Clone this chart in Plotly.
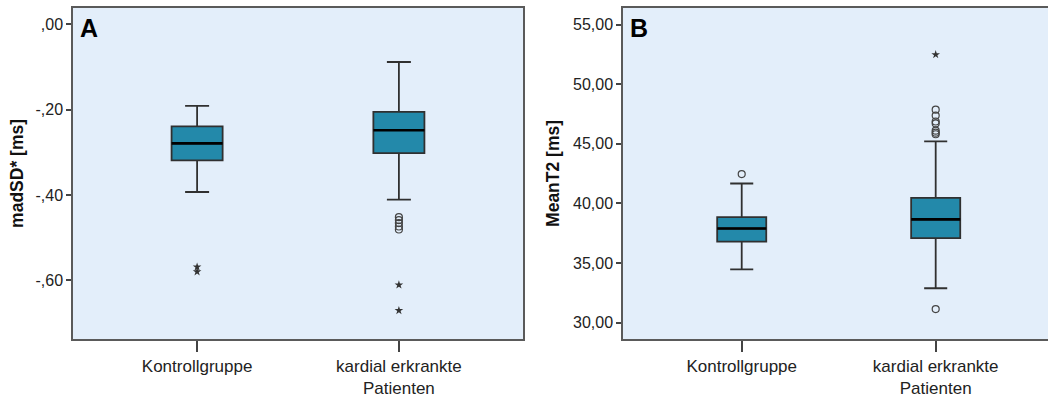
import plotly.graph_objects as go

# ---- data ----
categories = ["Kontrollgruppe", "kardial erkrankte<br>Patienten"]

# Panel A: madSD* [ms]
a_q1 = [-0.319, -0.302]
a_median = [-0.279, -0.248]
a_q3 = [-0.239, -0.205]
a_lower = [-0.393, -0.411]
a_upper = [-0.191, -0.088]
a_out_circles = [[], [-0.452, -0.459, -0.466, -0.474, -0.481]]
a_out_stars = [[-0.569, -0.580], [-0.611, -0.671]]
a_tickvals = [0.0, -0.2, -0.4, -0.6]
a_ticktext = [",00", "-,20", "-,40", "-,60"]

# Panel B: MeanT2 [ms]
b_q1 = [36.80, 37.10]
b_median = [37.90, 38.66]
b_q3 = [38.85, 40.47]
b_lower = [34.47, 32.89]
b_upper = [41.67, 45.20]
b_out_circles = [[42.46], [47.86, 47.37, 46.87, 46.71, 46.10, 45.93, 45.80, 31.14]]
b_out_stars = [[], [52.48]]
b_tickvals = [30, 35, 40, 45, 50, 55]
b_ticktext = ["30,00", "35,00", "40,00", "45,00", "50,00", "55,00"]

# ---- style ----
FONT = "Liberation Sans, Arial, sans-serif"
BOX_FILL = "#2389AA"
LINE = "#303030"
BG = "#E3EEFA"
BOXW = 0.253

fig = go.Figure()
positions = list(range(len(categories)))


def add_panel(xa, ya, q1, med, q3, lo, up, circles, stars):
    fig.add_trace(go.Box(
        x=positions, q1=q1, median=med, q3=q3, lowerfence=lo, upperfence=up,
        width=BOXW, whiskerwidth=0.47, fillcolor=BOX_FILL,
        line=dict(color=LINE, width=1.8), boxpoints=False,
        xaxis=xa, yaxis=ya, showlegend=False, hoverinfo="skip"))
    # thicker black median lines
    mx, my = [], []
    for p, m in zip(positions, med):
        mx += [p - BOXW / 2, p + BOXW / 2, None]
        my += [m, m, None]
    fig.add_trace(go.Scatter(x=mx, y=my, mode="lines",
                             line=dict(color="#000000", width=2.6),
                             xaxis=xa, yaxis=ya, showlegend=False, hoverinfo="skip"))
    cx, cy, sx, sy = [], [], [], []
    for p, c, s in zip(positions, circles, stars):
        cx += [p] * len(c); cy += c
        sx += [p] * len(s); sy += s
    fig.add_trace(go.Scatter(x=cx, y=cy, mode="markers",
                             marker=dict(symbol="circle-open", size=7,
                                         color="#444444", line=dict(width=1.2)),
                             xaxis=xa, yaxis=ya, showlegend=False, hoverinfo="skip"))
    fig.add_trace(go.Scatter(x=sx, y=sy, mode="markers",
                             marker=dict(symbol="star", size=6.5, color="#333333"),
                             xaxis=xa, yaxis=ya, showlegend=False, hoverinfo="skip"))


add_panel("x", "y", a_q1, a_median, a_q3, a_lower, a_upper, a_out_circles, a_out_stars)
add_panel("x2", "y2", b_q1, b_median, b_q3, b_lower, b_upper, b_out_circles, b_out_stars)

ydom = [1 - 346 / 398, 1 - 8 / 398]
axis_line = dict(showline=True, linecolor="#5a5a5a", linewidth=1.5, mirror=True,
                 showgrid=False, zeroline=False)
tickfont = dict(family=FONT, size=16, color="#222222")
xtickfont = dict(family=FONT, size=17, color="#222222")
titlefont = dict(family=FONT, size=17.5, color="#111111")

fig.update_layout(
    width=1048, height=398,
    margin=dict(l=0, r=0, t=0, b=0),
    paper_bgcolor="white", plot_bgcolor=BG,
    xaxis=dict(domain=[73 / 1048, 523 / 1048], range=[-0.615, 1.615],
               tickvals=positions, ticktext=categories, ticks="outside",
               ticklen=11, tickcolor="#444444", tickwidth=1.5,
               tickfont=xtickfont, anchor="y", **axis_line),
    yaxis=dict(domain=ydom, range=[-0.738, 0.039], tickvals=a_tickvals,
               ticktext=a_ticktext, ticks="outside", ticklen=5,
               tickcolor="#444444", tickwidth=1.5, tickfont=tickfont,
               title=dict(text="<b>madSD* [ms]</b>", font=titlefont, standoff=7),
               anchor="x", automargin=False, **axis_line),
    xaxis2=dict(domain=[623 / 1048, 1.0], range=[-0.612, 1.579],
                tickvals=positions, ticktext=categories, ticks="outside",
                ticklen=11, tickcolor="#444444", tickwidth=1.5,
                tickfont=xtickfont, anchor="y2", **axis_line),
    yaxis2=dict(domain=ydom, range=[28.63, 56.40], tickvals=b_tickvals,
                ticktext=b_ticktext, ticks="outside", ticklen=5,
                tickcolor="#444444", tickwidth=1.5, tickfont=tickfont,
                title=dict(text="<b>MeanT2 [ms]</b>", font=titlefont, standoff=9),
                anchor="x2", automargin=False, **axis_line),
)

for xr, yr, letter in [("x domain", "y domain", "A"), ("x2 domain", "y2 domain", "B")]:
    fig.add_annotation(xref=xr, yref=yr, x=0.012, y=0.938, text="<b>%s</b>" % letter,
                       showarrow=False, xanchor="left", yanchor="middle",
                       font=dict(family=FONT, size=25, color="#000000"))

fig.write_html("out.html")
